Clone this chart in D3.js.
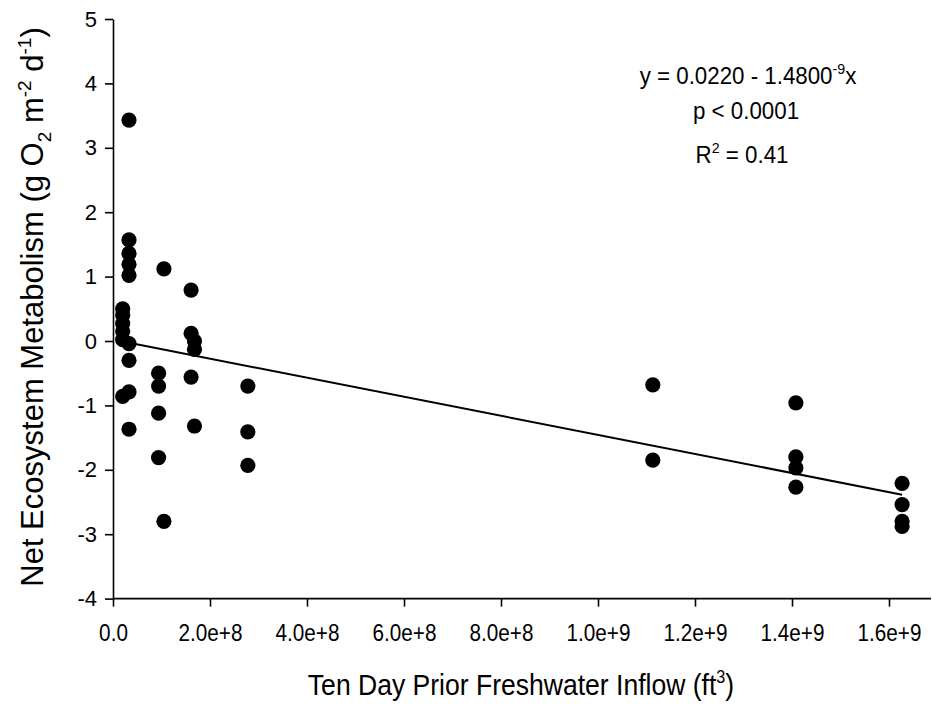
<!DOCTYPE html>
<html>
<head>
<meta charset="utf-8">
<script src="https://cdn.jsdelivr.net/npm/d3@7"></script>
<style>
  html, body { margin: 0; padding: 0; background: #fff; }
  svg { display: block; font-family: "Liberation Sans", Arial, sans-serif; }
  .axis path, .axis line { stroke: #000; stroke-width: 1.6; }
  .axis text { font-size: 22px; fill: #000; }
</style>
</head>
<body>
<svg id="chart" width="932" height="705"></svg>
<script>
'use strict';
// inflow (ft3) and net ecosystem metabolism (g O2 m-2 d-1)
const inflow = [
  2.0e7, 2.0e7, 2.0e7, 2.0e7, 2.0e7, 2.0e7,
  3.3e7, 3.3e7, 3.3e7, 3.3e7, 3.3e7, 3.3e7, 3.3e7, 3.3e7, 3.3e7,
  1.05e8, 9.4e7, 9.4e7, 9.4e7, 9.4e7, 1.05e8,
  1.61e8, 1.61e8, 1.68e8, 1.68e8, 1.61e8, 1.68e8,
  2.78e8, 2.78e8, 2.78e8,
  1.113e9, 1.113e9,
  1.408e9, 1.408e9, 1.408e9, 1.408e9,
  1.627e9, 1.627e9, 1.627e9, 1.627e9
];
const nem = [
  0.50, 0.40, 0.27, 0.15, 0.02, -0.86,
  3.43, 1.57, 1.36, 1.19, 1.02, -0.04, -0.30, -0.79, -1.37,
  1.12, -0.50, -0.70, -1.12, -1.81, -2.80,
  0.79, 0.12, 0.00, -0.13, -0.56, -1.32,
  -0.70, -1.41, -1.93,
  -0.68, -1.85,
  -0.96, -1.80, -1.97, -2.27,
  -2.21, -2.54, -2.80, -2.88
];
const xTicks = [0, 2e8, 4e8, 6e8, 8e8, 1e9, 1.2e9, 1.4e9, 1.6e9];
const xTickLabels = ['0.0', '2.0e+8', '4.0e+8', '6.0e+8', '8.0e+8', '1.0e+9', '1.2e+9', '1.4e+9', '1.6e+9'];
const yTicks = [-4, -3, -2, -1, 0, 1, 2, 3, 4, 5];
const fitIntercept = 0.0220, fitSlope = -1.48e-9;

const svg = d3.select('#chart');
const x = d3.scaleLinear().domain([0, 1.7e9]).range([113, 937.5]);
const y = d3.scaleLinear().domain([-4, 5]).range([598.6, 19]);

const xAxis = d3.axisBottom(x).tickValues(xTicks)
  .tickFormat((d, i) => xTickLabels[i]).tickSize(8).tickSizeOuter(0).tickPadding(24);
const gx = svg.append('g').attr('class', 'axis').attr('transform', `translate(0,${y(-4)})`).call(xAxis);
gx.select('path').attr('d', `M${x(0)},0H931`);   // axis line stops at the edge
gx.selectAll('text').attr('dy', '0.45em').style('font-size', '23px')
  .attr('transform', 'scale(0.9,1)');

const yAxis = d3.axisLeft(y).tickValues(yTicks).tickFormat(d => String(d))
  .tickSize(8).tickSizeOuter(0).tickPadding(8);
svg.append('g').attr('class', 'axis').attr('transform', `translate(${x(0)},0)`).call(yAxis);

// regression line over the data range
const xr = d3.extent(inflow);
svg.append('line')
  .attr('x1', x(xr[0])).attr('y1', y(fitIntercept + fitSlope * xr[0]))
  .attr('x2', x(xr[1])).attr('y2', y(fitIntercept + fitSlope * xr[1]))
  .attr('stroke', '#000').attr('stroke-width', 2);

svg.append('g').selectAll('circle').data(inflow).join('circle')
  .attr('cx', d => x(d)).attr('cy', (d, i) => y(nem[i]))
  .attr('r', 7.6).attr('fill', '#000');

// axis titles
const yt = svg.append('text')
  .attr('transform', 'translate(43,307) rotate(-90)')
  .attr('text-anchor', 'middle').attr('font-size', 31);
yt.append('tspan').text('Net Ecosystem Metabolism (g O');
yt.append('tspan').attr('font-size', 19).attr('dy', 8).text('2');
yt.append('tspan').attr('dy', -8).text(' m');
yt.append('tspan').attr('font-size', 19).attr('dy', -12).text('-2');
yt.append('tspan').attr('dy', 12).text(' d');
yt.append('tspan').attr('font-size', 19).attr('dy', -12).text('-1');
yt.append('tspan').attr('dy', 12).text(')');

const xt = svg.append('text')
  .attr('transform', 'translate(521,695) scale(0.9,1)')
  .attr('text-anchor', 'middle').attr('font-size', 29.5);
xt.append('tspan').text('Ten Day Prior Freshwater Inflow (ft');
xt.append('tspan').attr('font-size', 18).attr('dy', -12).text('3');
xt.append('tspan').attr('dy', 12).text(')');

// fit annotation
const ann = svg.append('g').attr('font-size', 23.5).attr('text-anchor', 'middle');
const a1 = ann.append('text').attr('transform', 'translate(748,84) scale(0.95,1)');
a1.append('tspan').text('y = 0.0220 - 1.4800');
a1.append('tspan').attr('font-size', 15).attr('dy', -10).text('-9');
a1.append('tspan').attr('dy', 10).text('x');
ann.append('text').attr('transform', 'translate(746,119) scale(0.95,1)').text('p < 0.0001');
const a3 = ann.append('text').attr('transform', 'translate(742,163) scale(0.95,1)');
a3.append('tspan').text('R');
a3.append('tspan').attr('font-size', 15).attr('dy', -10).text('2');
a3.append('tspan').attr('dy', 10).text(' = 0.41');
</script>
</body>
</html>
